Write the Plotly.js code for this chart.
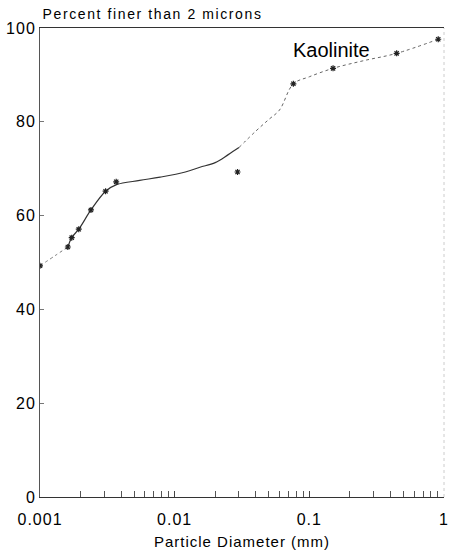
<!DOCTYPE html>
<html>
<head>
<meta charset="utf-8">
<script src="https://cdn.plot.ly/plotly-3.0.1.min.js"></script>
<style>
html,body{margin:0;padding:0;background:#fff;}
#chart{width:450px;height:550px;}
#chart .xtick text, #chart .ytick text{letter-spacing:1px;}
#chart text.xtitle{letter-spacing:1px;}
#chart g.annotation[data-index="0"] text{letter-spacing:1.6px;}
</style>
</head>
<body>
<div id="chart"></div>
<script>
// Measured sample points (particle diameter in mm, percent finer)
var sampleDiameter = [0.001, 0.00161, 0.00172, 0.00194, 0.00239, 0.00307, 0.00368, 0.0293, 0.0761, 0.150, 0.445, 0.906];
var samplePercent  = [49.3, 53.3, 55.3, 57.1, 61.2, 65.2, 67.2, 69.3, 88.1, 91.4, 94.6, 97.6];

// Hand-drawn fitted curve in three pieces
var curveStartDiameter = [0.001, 0.0013, 0.00161];
var curveStartPercent  = [49.3, 51.5, 53.3];
var curveMidDiameter = [0.00161, 0.00172, 0.00194, 0.00239, 0.00307, 0.0037, 0.0055, 0.0078, 0.012, 0.0154, 0.02, 0.025, 0.03];
var curveMidPercent  = [53.3, 55.3, 57.1, 61.2, 65.2, 66.6, 67.5, 68.2, 69.3, 70.3, 71.3, 73.0, 74.5];
var curveEndDiameter = [0.03, 0.04, 0.05, 0.06, 0.0761, 0.1, 0.15, 0.25, 0.445, 0.906];
var curveEndPercent  = [74.5, 78.0, 80.5, 82.5, 88.1, 89.6, 91.4, 93.0, 94.6, 97.6];

var xTickVals = [0.001, 0.01, 0.1, 1];
var xTickText = ['0.001', '0.01', '0.1', '1'];
var yTickVals = [0, 20, 40, 60, 80, 100];

var font = 'Liberation Sans, Arial, Helvetica, sans-serif';

var traces = [
  {x: curveStartDiameter, y: curveStartPercent, mode: 'lines', line: {color: '#777', width: 1, dash: 'dot', shape: 'spline'}, hoverinfo: 'skip'},
  {x: curveMidDiameter, y: curveMidPercent, mode: 'lines', line: {color: '#333', width: 1.2, shape: 'spline'}, hoverinfo: 'skip'},
  {x: curveEndDiameter, y: curveEndPercent, mode: 'lines', line: {color: '#666', width: 1, dash: 'dot', shape: 'spline'}, hoverinfo: 'skip'},
  {x: sampleDiameter, y: samplePercent, mode: 'markers', marker: {symbol: 'asterisk-open', size: 5, color: '#222', line: {color: '#222', width: 1.2}}}
];

var layout = {
  width: 450, height: 550,
  margin: {l: 40, r: 6, t: 28, b: 53},
  paper_bgcolor: '#fff', plot_bgcolor: '#fff',
  showlegend: false,
  font: {family: font, color: '#000'},
  xaxis: {
    type: 'log', range: [-3, 0],
    tickvals: xTickVals, ticktext: xTickText,
    ticks: 'inside', ticklen: 6, tickcolor: '#444', tickwidth: 1,
    ticklabelstandoff: 8,
    minor: {ticks: 'inside', ticklen: 6, tickcolor: '#555', tickwidth: 1, dtick: 'D1', showgrid: false},
    showgrid: false, zeroline: false,
    showline: true, linecolor: '#333', linewidth: 1, mirror: true,
    tickfont: {size: 16, family: font, color: '#000'},
    title: {text: 'Particle Diameter (mm)', font: {size: 15, family: font, color: '#000'}, standoff: 9}
  },
  yaxis: {
    range: [0, 100],
    tickvals: yTickVals,
    ticks: 'inside', ticklen: 4, tickcolor: '#777', tickwidth: 1,
    showgrid: false, zeroline: false,
    showline: true, linecolor: '#555', linewidth: 1,
    tickfont: {size: 16, family: font, color: '#000'}
  },
  shapes: [
    {type: 'line', xref: 'paper', yref: 'paper', x0: 1, x1: 1, y0: 0, y1: 1, line: {color: '#ccc', width: 1, dash: 'dot'}}
  ],
  annotations: [
    {xref: 'paper', yref: 'paper', x: 0, y: 1, xanchor: 'left', yanchor: 'bottom', yshift: 4, xshift: 23, showarrow: false,
     text: 'Percent finer than 2 microns', font: {size: 14, family: font, color: '#000'}},
    {xref: 'x', yref: 'y', x: Math.log10(0.145), y: 95.3, xanchor: 'center', yanchor: 'middle', showarrow: false,
     text: 'Kaolinite', font: {size: 20, family: font, color: '#000'}}
  ]
};

Plotly.newPlot('chart', traces, layout, {staticPlot: true, displayModeBar: false});
</script>
</body>
</html>
